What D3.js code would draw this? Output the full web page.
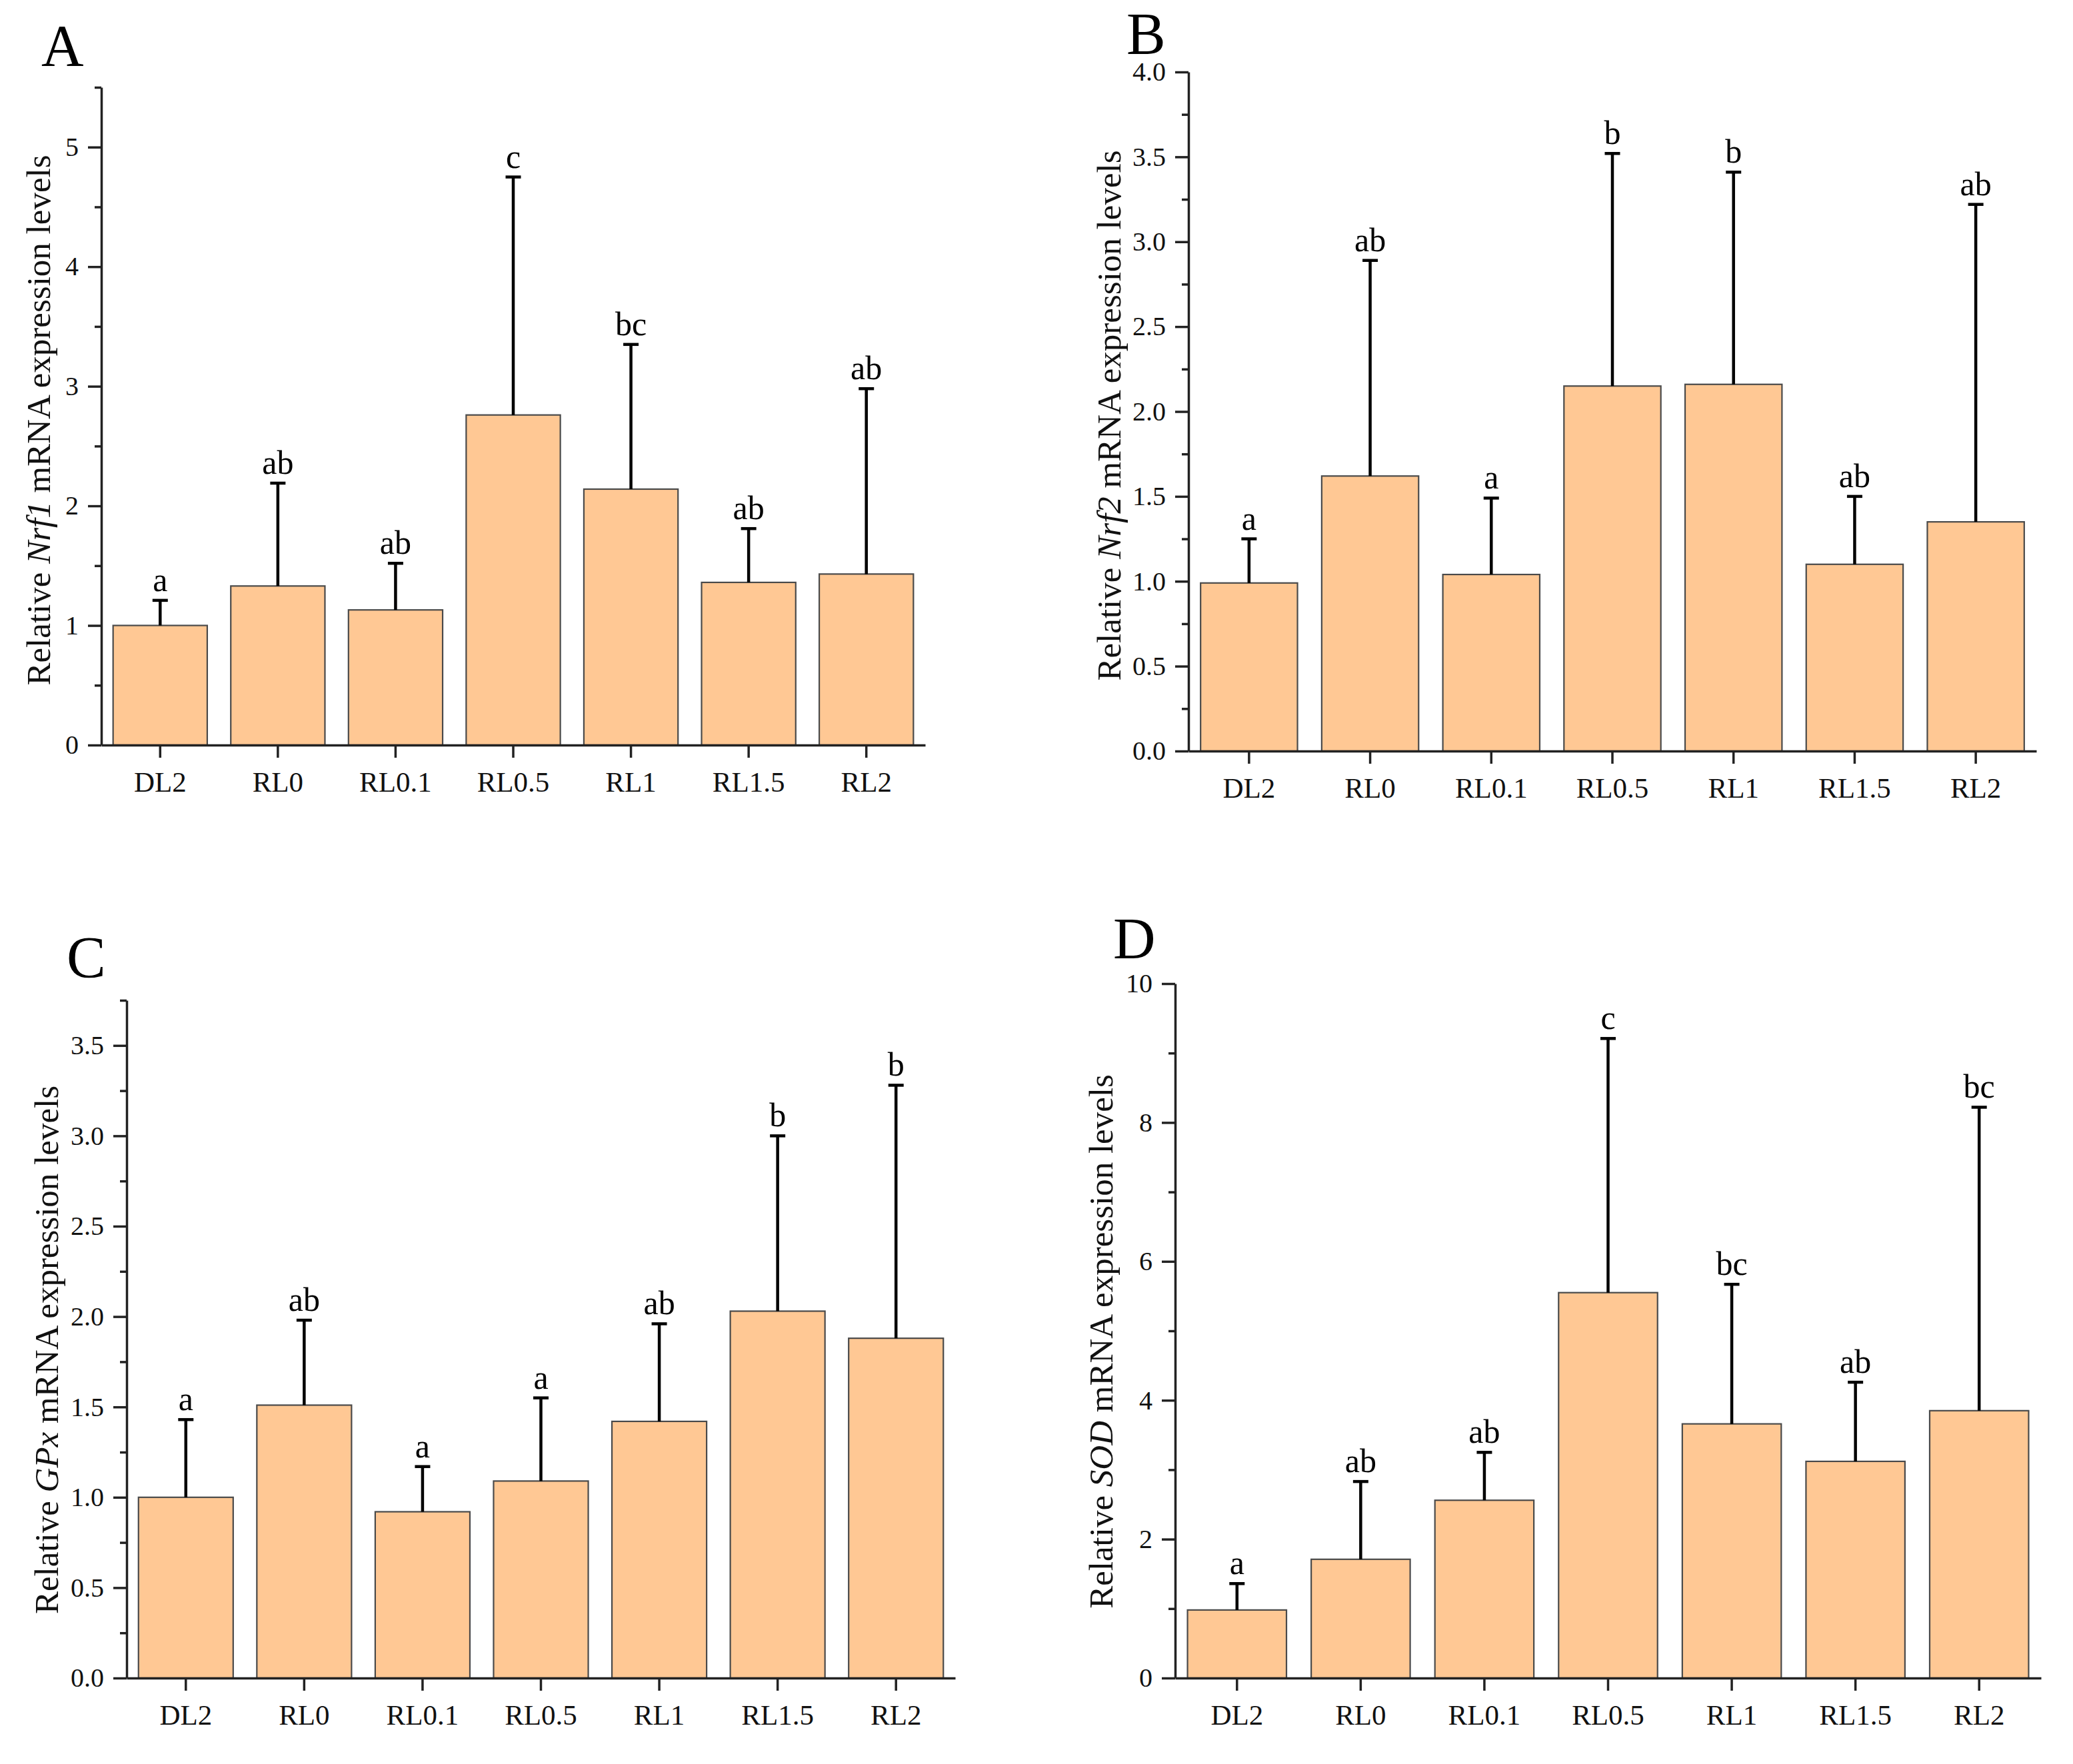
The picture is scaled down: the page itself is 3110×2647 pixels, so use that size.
<!DOCTYPE html>
<html lang="en">
<head>
    <meta charset="UTF-8">
    <title>Relative mRNA expression levels</title>
    <script src="https://d3js.org/d3.v7.min.js"></script>
    <style>
        body { margin: 0; background: #fff; }
        svg { display: block; font-family: 'Liberation Serif', 'Times New Roman', serif; }
        .axis path, .axis line { stroke: #222; stroke-width: 3.5; }
        .axis text { font-family: 'Liberation Serif', 'Times New Roman', serif; fill: #111; }
        .bar { fill: #ffc894; stroke: #4a4a4a; stroke-width: 2.2; }
        .err { stroke: #000; stroke-width: 4.5; }
    </style>
</head>
<body>
    <svg id="chart" width="3110" height="2647"></svg>

    <script>
        // Groups on the x axis
        const categories = ['DL2', 'RL0', 'RL0.1', 'RL0.5', 'RL1', 'RL1.5', 'RL2'];

        // A: Nrf1
        const nrf1Mean = [1.00, 1.33, 1.13, 2.76, 2.14, 1.36, 1.43];
        const nrf1Sd = [0.21, 0.86, 0.39, 1.99, 1.21, 0.45, 1.55];
        const nrf1Letters = ['a', 'ab', 'ab', 'c', 'bc', 'ab', 'ab'];
        const nrf1Ticks = [0, 1, 2, 3, 4, 5];

        // B: Nrf2
        const nrf2Mean = [0.99, 1.62, 1.04, 2.15, 2.16, 1.10, 1.35];
        const nrf2Sd = [0.26, 1.27, 0.45, 1.37, 1.25, 0.40, 1.87];
        const nrf2Letters = ['a', 'ab', 'a', 'b', 'b', 'ab', 'ab'];
        const nrf2Ticks = [0, 0.5, 1.0, 1.5, 2.0, 2.5, 3.0, 3.5, 4.0];

        // C: GPx
        const gpxMean = [1.00, 1.51, 0.92, 1.09, 1.42, 2.03, 1.88];
        const gpxSd = [0.43, 0.47, 0.25, 0.46, 0.54, 0.97, 1.40];
        const gpxLetters = ['a', 'ab', 'a', 'a', 'ab', 'b', 'b'];
        const gpxTicks = [0, 0.5, 1.0, 1.5, 2.0, 2.5, 3.0, 3.5];

        // D: SOD
        const sodMean = [0.98, 1.71, 2.56, 5.55, 3.66, 3.12, 3.85];
        const sodSd = [0.38, 1.12, 0.69, 3.66, 2.01, 1.14, 4.37];
        const sodLetters = ['a', 'ab', 'ab', 'c', 'bc', 'ab', 'bc'];
        const sodTicks = [0, 2, 4, 6, 8, 10];

        const svg = d3.select('#chart');

        // panel placement on the page
        const panels = [
            { tag: 'A', gene: 'Nrf1', mean: nrf1Mean, sd: nrf1Sd, letters: nrf1Letters, ticks: nrf1Ticks,
              max: 5.5, minor: 0.5, fmt: d3.format('d'),
              left: 152, right: 1388, top: 131, bottom: 1118, labelX: 58, labelDy: 6, tagX: 62, tagY: 98 },
            { tag: 'B', gene: 'Nrf2', mean: nrf2Mean, sd: nrf2Sd, letters: nrf2Letters, ticks: nrf2Ticks,
              max: 4.0, minor: 0.25, fmt: d3.format('.1f'),
              left: 1783, right: 3055, top: 108, bottom: 1127, labelX: 1664, labelDy: 6, tagX: 1690, tagY: 80 },
            { tag: 'C', gene: 'GPx', mean: gpxMean, sd: gpxSd, letters: gpxLetters, ticks: gpxTicks,
              max: 3.75, minor: 0.25, fmt: d3.format('.1f'),
              left: 190, right: 1433, top: 1501, bottom: 2518, labelX: 70, labelDy: 16, tagX: 100, tagY: 1466 },
            { tag: 'D', gene: 'SOD', mean: sodMean, sd: sodSd, letters: sodLetters, ticks: sodTicks,
              max: 10, minor: 1, fmt: d3.format('d'),
              left: 1763, right: 3062, top: 1476, bottom: 2518, labelX: 1652, labelDy: 16, tagX: 1670, tagY: 1438 }
        ];

        panels.forEach(drawPanel);

        function drawPanel(p) {
            const g = svg.append('g');

            const x = d3.scaleBand()
                .domain(categories)
                .range([p.left, p.right])
                .paddingInner(0.2)
                .paddingOuter(0.1);

            const y = d3.scaleLinear()
                .domain([0, p.max])
                .range([p.bottom, p.top]);

            const rows = categories.map((c, i) => ({
                cat: c, mean: p.mean[i], sd: p.sd[i], letter: p.letters[i]
            }));

            // bars
            g.selectAll('.bar')
                .data(rows)
                .join('rect')
                .attr('class', 'bar')
                .attr('x', d => x(d.cat))
                .attr('width', x.bandwidth())
                .attr('y', d => y(d.mean))
                .attr('height', d => y(0) - y(d.mean));

            // upper error bars
            const cx = d => x(d.cat) + x.bandwidth() / 2;
            g.selectAll('.err-v')
                .data(rows)
                .join('line')
                .attr('class', 'err')
                .attr('x1', cx).attr('x2', cx)
                .attr('y1', d => y(d.mean))
                .attr('y2', d => y(d.mean + d.sd));
            g.selectAll('.err-cap')
                .data(rows)
                .join('line')
                .attr('class', 'err')
                .attr('x1', d => cx(d) - 11.5).attr('x2', d => cx(d) + 11.5)
                .attr('y1', d => y(d.mean + d.sd))
                .attr('y2', d => y(d.mean + d.sd));

            // significance letters
            g.selectAll('.sig')
                .data(rows)
                .join('text')
                .attr('x', cx)
                .attr('y', d => y(d.mean + d.sd) - 14)
                .attr('text-anchor', 'middle')
                .attr('font-size', 50)
                .attr('fill', '#000')
                .text(d => d.letter);

            // minor ticks
            const minorTicks = d3.range(0, p.max + 1e-9, p.minor)
                .filter(v => !p.ticks.some(t => Math.abs(t - v) < 1e-9));
            g.append('g')
                .attr('class', 'axis')
                .attr('transform', `translate(${p.left},0)`)
                .call(d3.axisLeft(y).tickValues(minorTicks).tickSize(10).tickSizeOuter(0).tickFormat(''))
                .call(a => a.select('.domain').remove());

            // y axis
            g.append('g')
                .attr('class', 'axis')
                .attr('transform', `translate(${p.left},0)`)
                .call(d3.axisLeft(y).tickValues(p.ticks).tickSize(20).tickSizeOuter(0).tickPadding(14).tickFormat(p.fmt))
                .call(a => a.selectAll('text').attr('font-size', 40));

            // x axis
            g.append('g')
                .attr('class', 'axis')
                .attr('transform', `translate(0,${p.bottom})`)
                .call(d3.axisBottom(x).tickSize(19).tickSizeOuter(0).tickPadding(20))
                .call(a => a.selectAll('text').attr('font-size', 43));

            // y label with italic gene name
            const cy = (p.top + p.bottom) / 2 + p.labelDy;
            const label = g.append('text')
                .attr('transform', `translate(${p.labelX},${cy}) rotate(-90)`)
                .attr('text-anchor', 'middle')
                .attr('dominant-baseline', 'central')
                .attr('font-size', 51)
                .attr('fill', '#111');
            label.append('tspan').text('Relative ');
            label.append('tspan').attr('font-style', 'italic').text(p.gene);
            label.append('tspan').text(' mRNA expression levels');

            // panel tag
            g.append('text')
                .attr('x', p.tagX)
                .attr('y', p.tagY)
                .attr('font-size', 88)
                .attr('fill', '#000')
                .text(p.tag);
        }
    </script>
</body>
</html>
